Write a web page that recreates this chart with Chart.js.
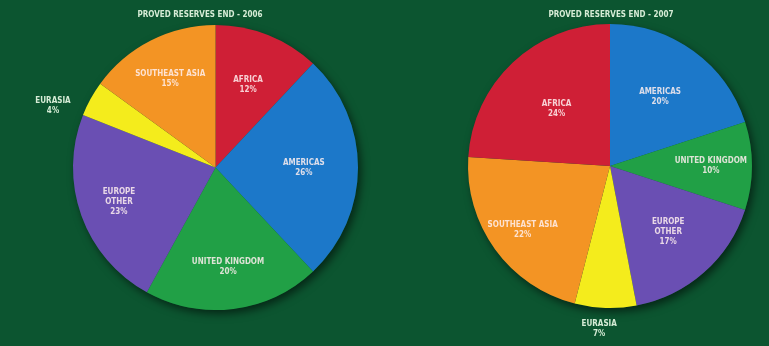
<!DOCTYPE html>
<html>
<head>
<meta charset="utf-8">
<script src="https://cdn.jsdelivr.net/npm/chart.js@4.4.1/dist/chart.umd.min.js"></script>
<style>
  body { margin: 0; background: #0c5530; }
  #wrap { position: relative; width: 769px; height: 346px; background: #0c5530; overflow: hidden; }
  canvas { position: absolute; top: 0; }
</style>
</head>
<body>
<div id="wrap">
  <canvas id="pie2006" width="385" height="346" style="left:0"></canvas>
  <canvas id="pie2007" width="384" height="346" style="left:385px"></canvas>
</div>
<script>
// datos
var regions2006 = ["AFRICA", "AMERICAS", "UNITED KINGDOM", "EUROPE OTHER", "EURASIA", "SOUTHEAST ASIA"];
var values2006 = [12, 26, 20, 23, 4, 15];
var colors2006 = ["#cf1f36", "#1c78c9", "#21a046", "#6a4fb3", "#f4ec1c", "#f39424"];

var regions2007 = ["AMERICAS", "UNITED KINGDOM", "EUROPE OTHER", "EURASIA", "SOUTHEAST ASIA", "AFRICA"];
var values2007 = [20, 10, 17, 7, 22, 24];
var colors2007 = ["#1c78c9", "#21a046", "#6a4fb3", "#f4ec1c", "#f39424", "#cf1f36"];

var title2006 = "PROVED RESERVES END - 2006";
var title2007 = "PROVED RESERVES END - 2007";

// radio relativo y giro (grados) de cada etiqueta
var labelPos2006 = [0.62, 0.62, 0.7, 0.72, 1.22, 0.7];
var labelTurn2006 = [0, 0, 0, 0, -8, 0];
var labelPos2007 = [0.6, 0.71, 0.62, 1.15, 0.76, 0.55];
var labelTurn2007 = [0, 0, 0, 2, 0, 0];

var etiquetas = {
  id: "etiquetas",
  beforeDatasetsDraw: function(chart) {
    var arc = chart.getDatasetMeta(0).data[0];
    var ctx = chart.ctx;
    ctx.save();
    ctx.shadowColor = "rgba(0,0,0,0.55)";
    ctx.shadowBlur = 8;
    ctx.shadowOffsetX = 3;
    ctx.shadowOffsetY = 4;
    ctx.fillStyle = "#0c5530";
    ctx.beginPath();
    ctx.arc(arc.x, arc.y, arc.outerRadius, 0, Math.PI * 2);
    ctx.fill();
    ctx.restore();
  },
  afterDraw: function(chart) {
    var opts = chart.options.plugins.etiquetas;
    var ctx = chart.ctx;
    var meta = chart.getDatasetMeta(0);
    var labels = chart.data.labels;
    var values = chart.data.datasets[0].data;
    ctx.save();
    ctx.textAlign = "center";
    ctx.textBaseline = "middle";
    ctx.font = "bold 8px 'Liberation Sans Narrow', 'DejaVu Sans Condensed', sans-serif";
    ctx.fillStyle = "#d6ecd6";
    ctx.fillText(opts.title, opts.titleX, 15);
    meta.data.forEach(function(a, i) {
      var mid = (a.startAngle + a.endAngle) / 2 + opts.turn[i] * Math.PI / 180;
      var r = a.outerRadius * opts.pos[i];
      var x = a.x + Math.cos(mid) * r;
      var y = a.y + Math.sin(mid) * r;
      var lines = labels[i].split(" ");
      if (labels[i] == "UNITED KINGDOM" || labels[i] == "SOUTHEAST ASIA") lines = [labels[i]];
      lines.push(values[i] + "%");
      ctx.fillStyle = opts.pos[i] > 1 ? "#d6ecd6" : "rgba(255,240,240,0.85)";
      var h = 10;
      var y0 = y - (lines.length - 1) * h / 2;
      lines.forEach(function(t, k) {
        ctx.fillText(t, x, y0 + k * h);
      });
    });
    ctx.restore();
  }
};

function crearPie(id, labels, values, colors, title, pos, turn, pad, titleX) {
  new Chart(document.getElementById(id), {
    type: "pie",
    data: {
      labels: labels,
      datasets: [{
        data: values,
        backgroundColor: colors,
        borderWidth: 0
      }]
    },
    options: {
      responsive: false,
      animation: false,
      layout: { padding: pad },
      plugins: {
        legend: { display: false },
        tooltip: { enabled: false },
        etiquetas: { title: title, pos: pos, turn: turn, titleX: titleX }
      }
    },
    plugins: [etiquetas]
  });
}

crearPie("pie2006", regions2006, values2006, colors2006, title2006, labelPos2006, labelTurn2006,
  { left: 73, right: 27, top: 25, bottom: 36 }, 200);
crearPie("pie2007", regions2007, values2007, colors2007, title2007, labelPos2007, labelTurn2007,
  { left: 82, right: 16, top: 24, bottom: 38 }, 226);
</script>
</body>
</html>
